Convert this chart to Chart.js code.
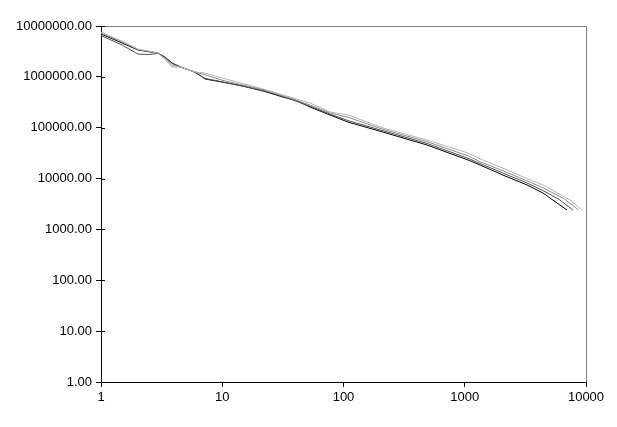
<!DOCTYPE html>
<html>
<head>
<meta charset="utf-8">
<script src="https://cdn.jsdelivr.net/npm/chart.js@4.4.1/dist/chart.umd.min.js"></script>
<style>
  html, body { margin: 0; padding: 0; background: #fff; }
  #wrap { width: 617px; height: 427px; }
</style>
</head>
<body>
<div id="wrap"><canvas id="chart" width="617" height="427"></canvas></div>
<script>
// values, one x/y pair of arrays per line
const xBlack = [1, 1.43, 2.02, 2.5, 2.95, 3.37, 3.85, 4.48, 5.96, 7.2, 9.95, 14, 21.7, 31.7, 40, 52.9, 77.4, 109, 212, 489, 1065, 1336, 2066, 3260, 4416, 5770, 6970];
const yBlack = [6.97e6, 4.84e6, 3.37e6, 3.1e6, 2.94e6, 2.45e6, 1.88e6, 1.56e6, 1.25e6, 9.1e5, 7.9e5, 6.8e5, 5.27e5, 4.0e5, 3.5e5, 2.55e5, 1.78e5, 1.29e5, 8.2e4, 4.57e4, 2.32e4, 1.85e4, 1.17e4, 7.5e3, 5.2e3, 3.31e3, 2.41e3];

const xDark = [1, 1.5, 2.02, 2.5, 2.95, 3.37, 3.85, 4.48, 5.96, 7.2, 9.95, 21.7, 31.7, 52.9, 77.4, 109, 212, 489, 1065, 1336, 2066, 3260, 4416, 6000, 7810];
const yDark = [6.5e6, 4.2e6, 2.8e6, 2.75e6, 2.9e6, 2.4e6, 1.85e6, 1.6e6, 1.22e6, 9.3e5, 8.0e5, 5.4e5, 4.1e5, 2.65e5, 1.85e5, 1.38e5, 8.7e4, 4.9e4, 2.5e4, 1.98e4, 1.28e4, 8.2e3, 5.8e3, 3.9e3, 2.41e3];

const xMid = [1, 1.5, 2.02, 2.5, 2.95, 3.37, 3.85, 4.48, 5.96, 7.2, 9.95, 21.7, 31.7, 52.9, 77.4, 109, 212, 489, 1065, 1336, 2066, 3260, 4416, 6500, 8700];
const yMid = [7.2e6, 4.9e6, 3.45e6, 3.15e6, 2.95e6, 2.3e6, 1.7e6, 1.58e6, 1.25e6, 1.1e6, 8.6e5, 5.6e5, 4.25e5, 2.8e5, 1.95e5, 1.6e5, 9.3e4, 5.3e4, 2.8e4, 2.15e4, 1.42e4, 9.0e3, 6.6e3, 4.1e3, 2.41e3];

const xLight = [1, 1.5, 2.02, 2.5, 2.95, 3.37, 3.85, 4.48, 5.96, 7.2, 9.95, 21.7, 31.7, 52.9, 77.4, 109, 212, 489, 1065, 1336, 2066, 3260, 4416, 7380, 9270];
const yLight = [7.6e6, 5.0e6, 3.5e6, 3.2e6, 2.94e6, 2.2e6, 1.56e6, 1.56e6, 1.25e6, 1.19e6, 9.5e5, 5.8e5, 4.4e5, 3.06e5, 2.04e5, 1.78e5, 9.9e4, 5.7e4, 3.19e4, 2.45e4, 1.6e4, 1.0e4, 7.5e3, 3.8e3, 2.41e3];

const xTicks = [1, 10, 100, 1000, 10000];
const yTicks = [1, 10, 100, 1000, 10000, 100000, 1000000, 10000000];

function pts(xs, ys) {
    return xs.map((x, i) => ({ x, y: ys[i] }));
}

function series(xs, ys, color) {
    return {
        data: pts(xs, ys),
        borderColor: color,
        borderWidth: 1,
        pointRadius: 0,
        showLine: true,
        fill: false,
        tension: 0
    };
}

// grey frame on top and right, crossing ticks on the value axis
const framePlugin = {
    id: "frame",
    afterDraw(chart) {
        const { ctx, chartArea: a } = chart;
        ctx.save();
        ctx.strokeStyle = "#808080";
        ctx.lineWidth = 1;
        ctx.beginPath();
        ctx.moveTo(a.left, a.top + 0.5);
        ctx.lineTo(a.right + 0.5, a.top + 0.5);
        ctx.lineTo(a.right + 0.5, a.bottom);
        ctx.stroke();
        ctx.strokeStyle = "#000";
        const y = chart.scales.y;
        yTicks.forEach(v => {
            const py = Math.round(y.getPixelForValue(v)) + 0.5;
            ctx.beginPath();
            ctx.moveTo(a.left, py);
            ctx.lineTo(a.left + 4, py);
            ctx.stroke();
        });
        ctx.restore();
    }
};

new Chart(document.getElementById("chart"), {
    type: "scatter",
    data: {
        datasets: [
            series(xLight, yLight, "#b4b4b4"),
            series(xMid, yMid, "#8c8c8c"),
            series(xDark, yDark, "#505050"),
            series(xBlack, yBlack, "#000000")
        ]
    },
    options: {
        responsive: false,
        animation: false,
        layout: { padding: { left: 0, right: 31, top: 26, bottom: 0 } },
        plugins: { legend: { display: false }, tooltip: { enabled: false } },
        scales: {
            x: {
                type: "logarithmic",
                min: 1,
                max: 10000,
                afterBuildTicks: s => { s.ticks = xTicks.map(v => ({ value: v })); },
                afterFit: s => { s.height = 45; },
                grid: { drawOnChartArea: false, tickLength: 5, tickColor: "#000" },
                border: { color: "#000" },
                ticks: {
                    color: "#000",
                    font: { family: "Liberation Sans, Arial", size: 13 },
                    maxRotation: 0,
                    padding: 3,
                    callback: v => String(v)
                }
            },
            y: {
                type: "logarithmic",
                min: 1,
                max: 10000000,
                afterBuildTicks: s => { s.ticks = yTicks.map(v => ({ value: v })); },
                afterFit: s => { s.width = 101; },
                grid: { drawOnChartArea: false, tickLength: 5, tickColor: "#000" },
                border: { color: "#000" },
                ticks: {
                    color: "#000",
                    font: { family: "Liberation Sans, Arial", size: 13 },
                    padding: 4,
                    callback: v => Number(v).toFixed(2)
                }
            }
        }
    },
    plugins: [framePlugin]
});
</script>
</body>
</html>
